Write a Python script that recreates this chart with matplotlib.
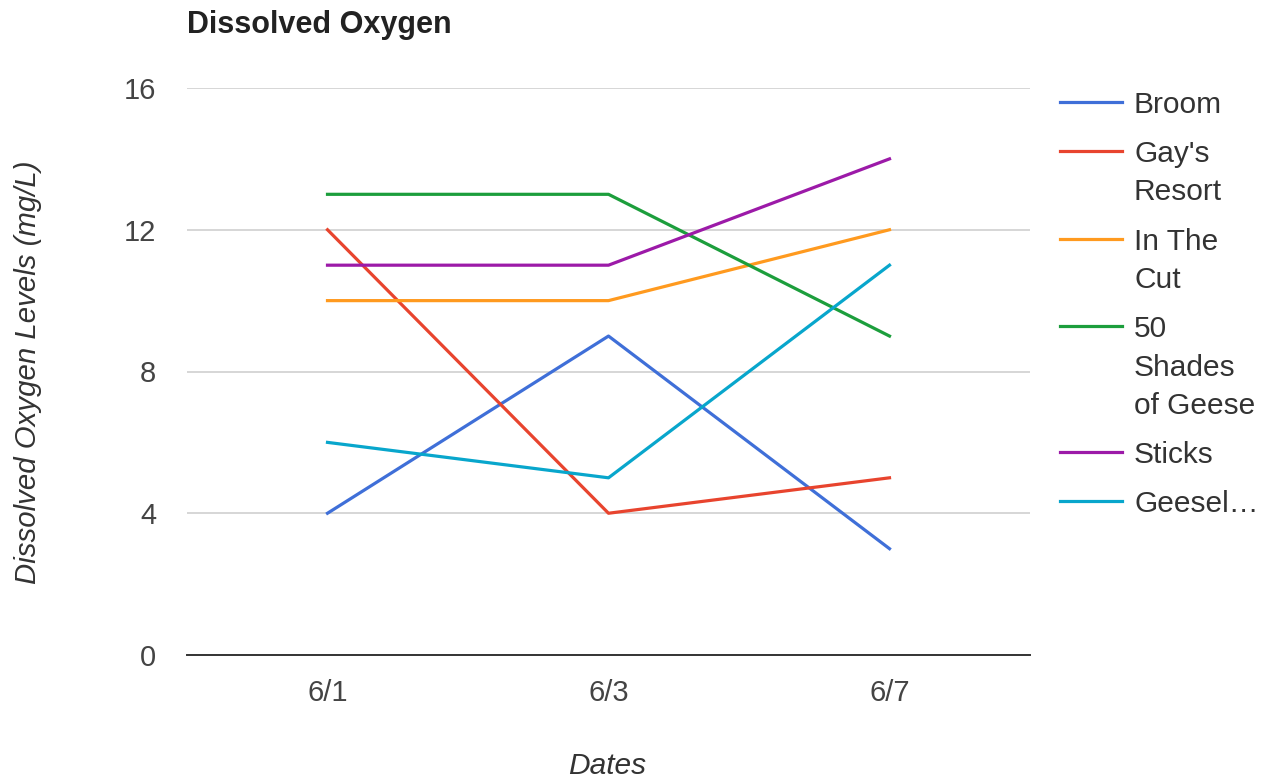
import matplotlib
matplotlib.use("Agg")
import matplotlib.pyplot as plt
from matplotlib.lines import Line2D

plt.rcParams['font.family'] = ['Liberation Sans', 'DejaVu Sans']

# Sampling dates and dissolved oxygen readings (mg/L) per site
dates = ["6/1", "6/3", "6/7"]
sites = ["Broom", "Gay's\nResort", "In The\nCut", "50\nShades\nof Geese", "Sticks", "Geesel…"]
broom = [4, 9, 3]
gays_resort = [12, 4, 5]
in_the_cut = [10, 10, 12]
shades_of_geese = [13, 13, 9]
sticks = [11, 11, 14]
geesel = [6, 5, 11]
series = [broom, gays_resort, in_the_cut, shades_of_geese, sticks, geesel]
colors = ["#3f6fd8", "#e8442e", "#ff9a1f", "#1c9e3c", "#9c1aa8", "#08a6cc"]
yticks = [0, 4, 8, 12, 16]

W, H = 1272, 782
fig = plt.figure(figsize=(W / 100, H / 100), dpi=100)
ax = fig.add_axes([187 / W, 1 - 655 / H, (1030 - 187) / W, (655 - 88) / H])

x = list(range(len(dates)))
for vals, col in zip(series, colors):
    ax.plot(x, vals, color=col, lw=2.3, solid_joinstyle='round', zorder=3)

ax.set_xlim(-0.5, len(dates) - 0.5)
ax.set_ylim(yticks[0], yticks[-1])
ax.set_yticks(yticks)
ax.set_xticks(x)
ax.set_xticklabels(dates)
ax.tick_params(axis='both', length=0, labelsize=21, labelcolor='#444444')
ax.tick_params(axis='y', pad=22)
ax.tick_params(axis='x', pad=17)
ax.grid(axis='y', color='#cccccc', lw=1.1, zorder=0)
for s in ['top', 'right', 'left']:
    ax.spines[s].set_visible(False)
ax.spines['bottom'].set_color('#333333')
ax.spines['bottom'].set_linewidth(1.4)
ax.spines['bottom'].set_zorder(4)

fig.text(187 / W, 1 - 25 / H, "Dissolved Oxygen", fontsize=22, fontweight='bold',
         color='#222222', ha='left', va='center')
fig.text(607 / W, 1 - 766 / H, "Dates", fontsize=21.5, style='italic',
         color='#333333', ha='center', va='center')
fig.text(28 / W, 1 - 372 / H, "Dissolved Oxygen Levels (mg/L)", fontsize=21.2,
         style='italic', color='#333333', rotation=90, ha='center', va='center')

# Legend drawn line by line so long names wrap like the chart's side panel
y_px = 102
for name, col in zip(sites, colors):
    fig.add_artist(Line2D([1060 / W, 1122 / W], [1 - y_px / H, 1 - y_px / H],
                          color=col, lw=2.3, transform=fig.transFigure))
    for line in name.split("\n"):
        fig.text(1134 / W, 1 - (y_px + 11) / H, line, fontsize=21.5,
                 color='#333333', ha='left', va='baseline')
        y_px += 38.5
    y_px += 49 - 38.5

fig.savefig("out.png", dpi=100, facecolor='white')
